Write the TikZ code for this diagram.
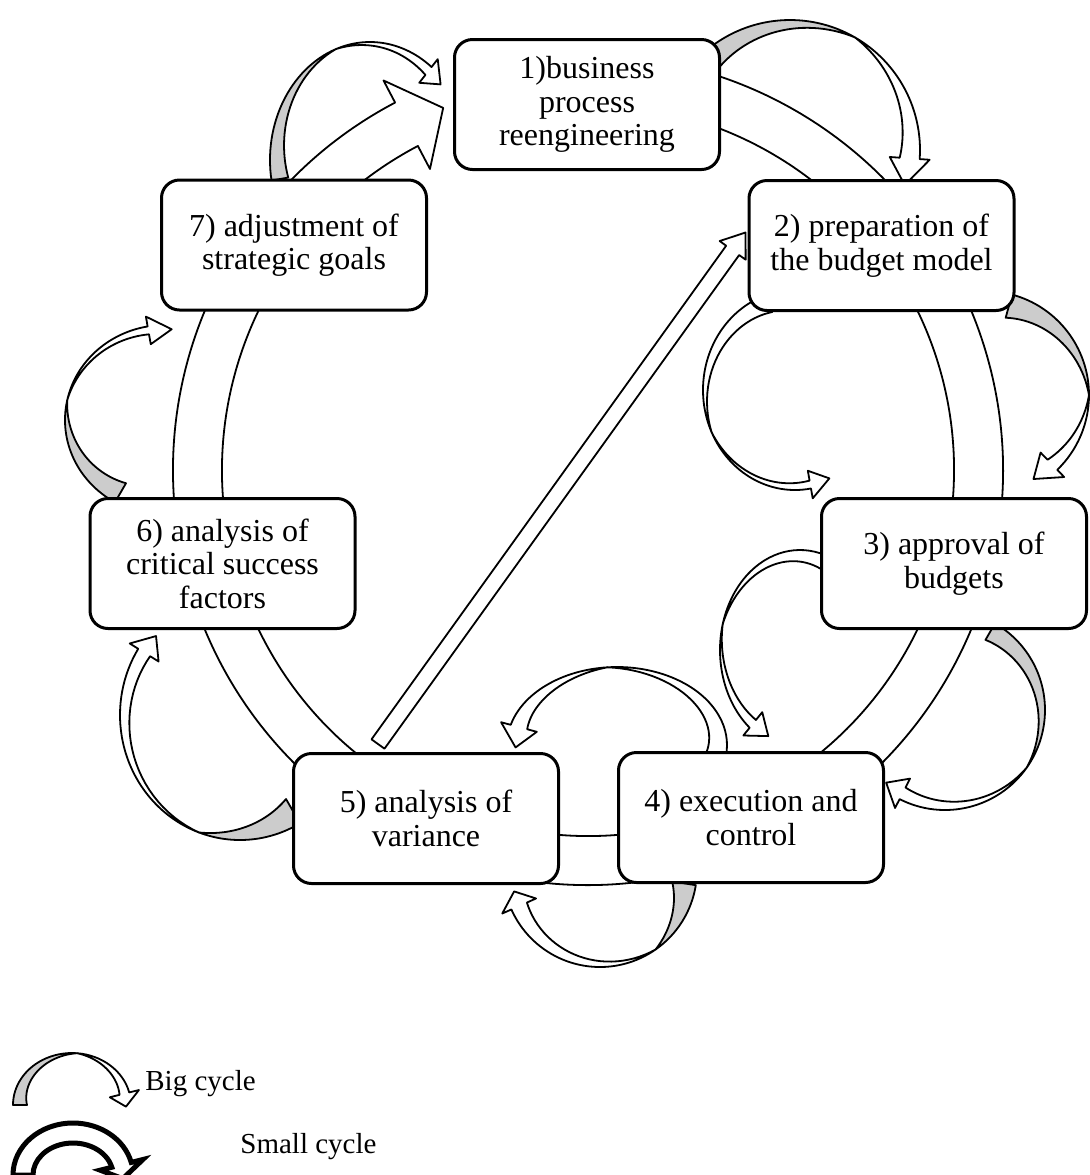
\documentclass[tikz,border=0pt]{standalone}
\usepackage{fontspec}
\setmainfont{Liberation Serif}
\usetikzlibrary{calc}

\newcommand{\stagefont}{\fontsize{16}{16.75}\selectfont}
\newcommand{\legendfont}{\fontsize{14.5}{17}\selectfont}

\tikzset{
  stage/.style={draw, line width=1.5pt, rounded corners=9pt, fill=white,
    minimum width=132.5pt, minimum height=65pt, inner sep=0pt,
    align=center, font=\stagefont},
  ringline/.style={draw, fill=white, line width=0.9pt, line join=round},
  cycleback/.style={draw, fill=black!20, line width=0.9pt, line join=round},
  cyclefront/.style={draw, fill=white, line width=0.9pt, line join=round},
  smallicon/.style={draw, fill=white, line width=2.5pt},
  legendtext/.style={font=\legendfont, inner sep=0pt, anchor=base west},
}

% curved block arrow: back part (crescent), then front part with its head
% #1 centre, #2 x radius, #3 y radius, #4 start, #5 end of back part,
% #6 head base, #7 head tip, #8 width at start, #9 width at head
\newcommand{\cyclearrow}[9]{%
  \begin{scope}[shift={#1}]
    \path[cycleback] ({#2*cos(#4)},{#3*sin(#4)})
      arc[start angle=#4, end angle=#5, x radius=#2, y radius=#3]
      -- plot[domain=#5:#4, samples=30, variable=\x]
        ({(#2-#8*(\x-(#5))/((#4)-(#5)))*cos(\x)},{(#3-#8*(\x-(#5))/((#4)-(#5)))*sin(\x)})
      -- cycle;%
    \path[cyclefront] ({#2*cos(#5)},{#3*sin(#5)})
      arc[start angle=#5, end angle=#6, x radius=#2, y radius=#3]
      -- ({(#2+10)*cos(#6)},{(#3+10)*sin(#6)})
      -- ({(#2-#9/2)*cos(#7)},{(#3-#9/2)*sin(#7)})
      -- ({(#2-#9-10)*cos(#6)},{(#3-#9-10)*sin(#6)})
      -- ({(#2-#9)*cos(#6)},{(#3-#9)*sin(#6)})
      -- plot[domain=#6:#5, samples=30, variable=\x]
        ({(#2-#9*(\x-(#5))/((#6)-(#5)))*cos(\x)},{(#3-#9*(\x-(#5))/((#6)-(#5)))*sin(\x)})
      -- cycle;%
  \end{scope}}

\begin{document}
\begin{tikzpicture}[x=0.5pt, y=0.5pt]
  \useasboundingbox (0,0) rectangle (1090,-1175);

  % Drawing the big ring with its head at stage 1
  \begin{scope}[shift={(588,-470)}]
    \path[ringline] (105:415) arc[start angle=105, end angle=-242.3, radius=415]
      -- (-242.3:440) -- (-248.2:390) -- (-242.3:340) -- (-242.3:366)
      arc[start angle=-242.3, end angle=105, radius=366] -- cycle;%
  \end{scope}

  % Drawing big cycle arrows (outside the ring)
  \cyclearrow{(790,-150)}{130}{130}{130}{60}{-4}{-17}{21}{20}%
  \cyclearrow{(985,-395)}{104}{104}{75}{0}{-46}{-60}{24}{14}%
  \cyclearrow{(945,-710)}{100}{100}{60}{-35}{-117}{-129}{19}{13}%
  \cyclearrow{(600,-870)}{97}{97}{-9}{-55}{-156}{-166}{24}{17}%
  \cyclearrow{(240,-715)}{120}{125}{-60}{-110}{-212}{-222}{28}{14}%
  \cyclearrow{(165,-420)}{100}{95}{240}{168}{100}{86}{22}{8}%
  \cyclearrow{(370,-160)}{100}{118}{190}{110}{52}{42}{17}{10}%

  % Drawing small cycle arrows (inside the ring)
  \begin{scope}[cycleback/.style={cyclefront}]
    \cyclearrow{(795,-390)}{92}{100}{108}{205}{280}{293}{18}{8}%
    \cyclearrow{(800,-650)}{80}{100}{68}{165}{231}{245}{15}{10}%
    \cyclearrow{(617,-745)}{110}{78}{-8}{95}{165}{182}{20}{17}%
  \end{scope}

  % Drawing stages
  \node[stage] (reeng) at (587,-104.5) {1)business\\process\\reengineering};%
  \node[stage] (budgetmodel) at (881.5,-245.5) {2) preparation of\\the budget model};%
  \node[stage] (approval) at (954,-563.5) {3) approval of\\budgets};%
  \node[stage] (execution) at (751,-817.5) {4) execution and\\control};%
  \node[stage] (variance) at (426,-818.5) {5) analysis of\\variance};%
  \node[stage] (factors) at (222.5,-563.5) {6) analysis of\\critical success\\factors};%
  \node[stage] (goals) at (294,-245) {7) adjustment of\\strategic goals};%

  % Drawing arrow from stage 5 to stage 2
  \coordinate (difftail) at ($(variance.north)+(-48,8)$);
  \coordinate (difftip) at ($(budgetmodel.west)+(-2,13)$);
  \coordinate (diffbase) at ($(difftip)!11pt!(difftail)$);
  \path[cyclefront] ($(difftail)!4pt!90:(difftip)$) -- ($(diffbase)!4pt!-90:(difftail)$)
    -- ($(diffbase)!8pt!-90:(difftail)$) -- (difftip) -- ($(diffbase)!8pt!90:(difftail)$)
    -- ($(diffbase)!4pt!90:(difftail)$) -- ($(difftail)!4pt!-90:(difftip)$) -- cycle;%

  % Drawing legend
  \cyclearrow{(72,-1105)}{59}{52}{180}{85}{14}{-2}{14}{10}%
  \node[legendtext] (bigkey) at (145,-1090) {Big cycle};%
  \begin{scope}[shift={(73,-1175)}]
    \path[smallicon] (180:60 and 52) arc[start angle=180, end angle=14, x radius=60, y radius=52]
      -- (14:72 and 64) -- (-5:50 and 42) -- (14:28 and 20) -- (14:40 and 32)
      arc[start angle=14, end angle=180, x radius=40, y radius=32] -- cycle;%
  \end{scope}
  \node[legendtext] (smallkey) at (240,-1153) {Small cycle};%
\end{tikzpicture}
\end{document}
